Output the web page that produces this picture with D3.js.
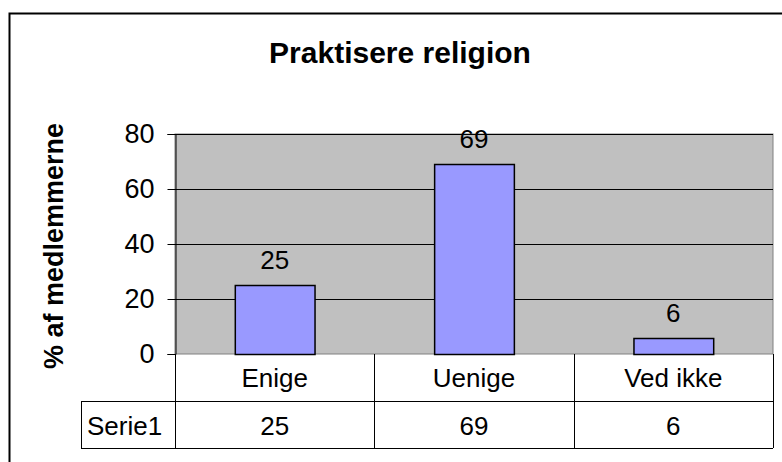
<!DOCTYPE html>
<html>
<head>
<meta charset="utf-8">
<script src="https://cdn.jsdelivr.net/npm/d3@7"></script>
<style>
  body { margin: 0; background: #fff; }
  text { font-family: Arial, "Liberation Sans", sans-serif; fill: #000; }
</style>
</head>
<body>
<svg id="chart" width="782" height="462"></svg>
<script>
const categories = ['Enige', 'Uenige', 'Ved ikke'];
const values = [25, 69, 6];
const seriesName = 'Serie1';
const yTicks = [0, 20, 40, 60, 80];
const title = 'Praktisere religion';
const yTitle = '% af medlemmerne';

const svg = d3.select('#chart');

// outer chart frame
svg.append('rect')
  .attr('x', 9.5).attr('y', 13.5)
  .attr('width', 800).attr('height', 480)
  .attr('fill', '#fff')
  .attr('stroke', '#000')
  .attr('stroke-width', 2);

const plot = { left: 175, right: 773, top: 134, bottom: 354 };
const table = { left: 81, row1: 401, row2: 448 };

const x = d3.scaleBand()
  .domain(categories)
  .range([plot.left, plot.right])
  .paddingInner(0.6)
  .paddingOuter(0.3);

const xCell = d3.scaleBand()
  .domain(categories)
  .range([plot.left, plot.right]);

const y = d3.scaleLinear()
  .domain([0, 80])
  .range([plot.bottom, plot.top]);

// plot area
svg.append('rect')
  .attr('x', plot.left).attr('y', plot.top)
  .attr('width', plot.right - plot.left).attr('height', plot.bottom - plot.top)
  .attr('fill', '#c0c0c0')
  .attr('stroke', '#808080')
  .attr('stroke-width', 1);

// gridlines
svg.append('g')
  .selectAll('line')
  .data(yTicks.filter(d => d > 0))
  .enter().append('line')
  .attr('x1', plot.left).attr('x2', plot.right)
  .attr('y1', d => Math.round(y(d)) + 0.5)
  .attr('y2', d => Math.round(y(d)) + 0.5)
  .attr('stroke', '#000')
  .attr('stroke-width', 1);

// y axis
const yAxis = d3.axisLeft(y)
  .tickValues(yTicks)
  .tickSize(8)
  .tickPadding(13);

const ya = svg.append('g')
  .attr('transform', `translate(${plot.left + 0.5},0)`)
  .call(yAxis);
ya.select('.domain').attr('stroke', '#000');
ya.selectAll('.tick line').attr('stroke', '#000');
ya.selectAll('.tick text')
  .attr('font-size', 27)
  .attr('font-family', 'Arial, "Liberation Sans", sans-serif')
  .attr('fill', '#000');

// bars
svg.append('g')
  .selectAll('rect')
  .data(values)
  .enter().append('rect')
  .attr('x', (d, i) => x(categories[i]) + 0.5)
  .attr('y', d => Math.round(y(d)) + 0.5)
  .attr('width', x.bandwidth())
  .attr('height', d => plot.bottom - Math.round(y(d)))
  .attr('fill', '#9999ff')
  .attr('stroke', '#000')
  .attr('stroke-width', 1.5);

// data labels
svg.append('g')
  .selectAll('text')
  .data(values)
  .enter().append('text')
  .attr('x', (d, i) => x(categories[i]) + x.bandwidth() / 2)
  .attr('y', d => y(d) - 16)
  .attr('text-anchor', 'middle')
  .attr('font-size', 26)
  .text(d => d);

// data table
const tg = svg.append('g')
  .attr('stroke', '#000')
  .attr('stroke-width', 1);

tg.append('line')
  .attr('x1', table.left).attr('x2', plot.right)
  .attr('y1', table.row1 + 0.5).attr('y2', table.row1 + 0.5);
tg.append('line')
  .attr('x1', table.left).attr('x2', plot.right)
  .attr('y1', table.row2 + 0.5).attr('y2', table.row2 + 0.5);
tg.append('line')
  .attr('x1', table.left + 0.5).attr('x2', table.left + 0.5)
  .attr('y1', table.row1).attr('y2', table.row2);
tg.append('line')
  .attr('x1', plot.right + 0.5).attr('x2', plot.right + 0.5)
  .attr('y1', plot.bottom).attr('y2', table.row2);
tg.selectAll('line.col')
  .data(categories)
  .enter().append('line')
  .attr('class', 'col')
  .attr('x1', d => Math.round(xCell(d)) + 0.5)
  .attr('x2', d => Math.round(xCell(d)) + 0.5)
  .attr('y1', plot.bottom)
  .attr('y2', table.row2);

svg.append('g')
  .selectAll('text')
  .data(categories)
  .enter().append('text')
  .attr('x', d => xCell(d) + xCell.bandwidth() / 2)
  .attr('y', (plot.bottom + table.row1) / 2 + 9)
  .attr('text-anchor', 'middle')
  .attr('font-size', 26)
  .text(d => d);

svg.append('g')
  .selectAll('text')
  .data(values)
  .enter().append('text')
  .attr('x', (d, i) => xCell(categories[i]) + xCell.bandwidth() / 2)
  .attr('y', (table.row1 + table.row2) / 2 + 10)
  .attr('text-anchor', 'middle')
  .attr('font-size', 26)
  .text(d => d);

svg.append('text')
  .attr('x', table.left + 6)
  .attr('y', (table.row1 + table.row2) / 2 + 10)
  .attr('font-size', 26)
  .text(seriesName);

// titles
svg.append('text')
  .attr('x', 400)
  .attr('y', 63)
  .attr('text-anchor', 'middle')
  .attr('font-size', 30)
  .attr('font-weight', 'bold')
  .text(title);

svg.append('text')
  .attr('transform', 'translate(63,246) rotate(-90)')
  .attr('text-anchor', 'middle')
  .attr('font-size', 27)
  .attr('font-weight', 'bold')
  .text(yTitle);
</script>
</body>
</html>
